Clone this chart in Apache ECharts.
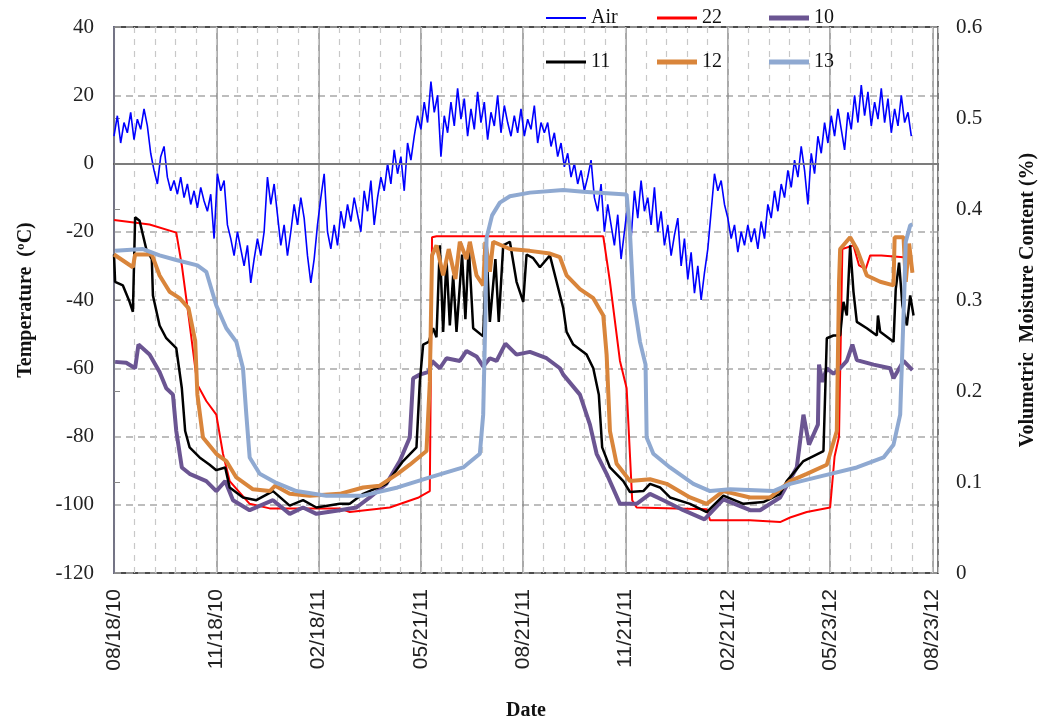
<!DOCTYPE html>
<html>
<head>
<meta charset="utf-8">
<script src="https://cdn.jsdelivr.net/npm/echarts@6/dist/echarts.min.js"></script>
<style>
  html, body { margin: 0; padding: 0; background: #fff; }
  #chart { width: 1059px; height: 726px; }
</style>
</head>
<body>
<div id="chart"></div>
<script>
// Date tick labels, one every 92 days starting 08/18/10
const dateLabels = ['08/18/10', '11/18/10', '02/18/11', '05/21/11', '08/21/11',
                    '11/21/11', '02/21/12', '05/23/12', '08/23/12'];
const tickDays = 92;

// Air temperature (°C), sampled every 3 days from 08/18/10
const airStep = 3;
const airTemps = [
  8, 14, 6, 12, 9, 15, 7, 13, 10, 16,
  11, 3, -2, -6, 2, 5, -4, -8, -5, -9,
  -4, -10, -6, -12, -8, -13, -7, -11, -14, -9,
  -22, -3, -8, -5, -18, -22, -27, -20, -25, -30,
  -24, -35, -28, -22, -27, -20, -4, -12, -6, -15,
  -24, -18, -27, -20, -12, -18, -10, -16, -27, -35,
  -28, -18, -10, -3, -20, -25, -18, -24, -14, -19,
  -12, -17, -10, -15, -20, -8, -14, -5, -18, -10,
  -4, -8, 0, -6, 4, -3, 2, -8, 6, 1,
  8, 14, 10, 18, 12, 24, 15, 20, 2, 14,
  9, 18, 11, 22, 13, 19, 8, 16, 10, 21,
  12, 18, 7, 15, 11, 20, 9, 17, 12, 8,
  14, 9, 16, 8, 13, 10, 17, 6, 12, 9,
  12, 5, 9, 2, 6, -1, 3, -4, 0, -6,
  -2, -8, -4, 1, -10, -14, -6, -20, -12, -18,
  -24, -15, -28, -20, -12, -22, -8, -16, -5, -14,
  -10, -18, -7, -20, -14, -24, -18, -27, -21, -16,
  -30, -22, -34, -26, -38, -30, -40, -32, -25, -14,
  -3, -8, -5, -12, -16, -22, -18, -26, -20, -24,
  -18, -23, -19, -25, -17, -22, -12, -16, -8, -14,
  -6, -10, -2, -7, 1, -4, 5, -2, -12, 3,
  -3, 8, 3, 12, 6, 14, 8, 16, 10, 4,
  15, 10, 20, 12, 23, 14, 21, 11, 18, 13,
  22, 12, 19, 9, 16, 11, 20, 12, 15, 8
];

// Volumetric moisture content per sensor: day offsets and values
const s22Days = [0, 32, 56, 61, 67, 75, 83, 92, 98, 104, 122, 140, 203, 212, 248, 274, 284, 286, 290,
  440, 446, 455, 461, 466, 470, 533, 536, 572, 599, 608, 623, 644, 648, 652, 655, 665, 670, 676, 680, 690, 710];
const s22Vmc = [0.388, 0.383, 0.374, 0.338, 0.283, 0.207, 0.189, 0.174, 0.131, 0.101, 0.076, 0.071, 0.071, 0.067, 0.072, 0.083, 0.090, 0.369, 0.370,
  0.370, 0.320, 0.233, 0.203, 0.080, 0.072, 0.070, 0.058, 0.058, 0.056, 0.061, 0.067, 0.072, 0.128, 0.150, 0.356, 0.360, 0.338, 0.334, 0.349, 0.349, 0.347];

const s10Days = [1, 11, 19, 22, 32, 41, 47, 53, 56, 61, 68, 83, 92, 100, 107, 122, 143, 158, 170, 182, 203, 218, 230, 245, 257, 266, 269,
  275, 283, 286, 293, 299, 311, 317, 326, 332, 338, 344, 352, 362, 374, 389, 401, 404, 419, 428, 434, 443, 455, 470, 482, 494, 512, 531,
  548, 572, 581, 599, 614, 620, 625, 633, 634, 637, 641, 647, 653, 659, 664, 668, 683, 698, 701, 710, 718];
const s10Vmc = [0.232, 0.231, 0.225, 0.251, 0.240, 0.221, 0.203, 0.196, 0.156, 0.116, 0.109, 0.101, 0.090, 0.101, 0.080, 0.069, 0.080, 0.065, 0.072, 0.065, 0.069, 0.072, 0.083, 0.098, 0.123, 0.149, 0.214,
  0.218, 0.221, 0.233, 0.225, 0.236, 0.233, 0.244, 0.238, 0.227, 0.236, 0.233, 0.252, 0.240, 0.243, 0.236, 0.225, 0.218, 0.196, 0.163, 0.131, 0.109, 0.076, 0.076, 0.087, 0.080, 0.069, 0.059,
  0.081, 0.069, 0.069, 0.083, 0.116, 0.174, 0.141, 0.163, 0.229, 0.210, 0.225, 0.219, 0.225, 0.233, 0.251, 0.234, 0.229, 0.225, 0.214, 0.233, 0.223];

const s11Days = [0, 1, 8, 14, 17, 19, 23, 29, 34, 35, 41, 47, 56, 61, 64, 68, 77, 86, 92, 100, 104, 116, 128, 143, 158, 170, 182, 203, 212,
  224, 245, 260, 272, 275, 278, 283, 287, 290, 293, 296, 299, 302, 305, 308, 313, 316, 319, 323, 332, 335, 338, 343, 346, 350, 356, 362,
  368, 371, 377, 383, 392, 398, 404, 407, 413, 425, 431, 436, 439, 446, 458, 464, 476, 482, 491, 500, 518, 533, 548, 566, 584, 599, 605,
  620, 638, 641, 647, 653, 656, 659, 662, 665, 668, 677, 686, 687, 689, 701, 703, 706, 709, 713, 716, 719];
const s11Vmc = [0.350, 0.320, 0.316, 0.298, 0.287, 0.391, 0.387, 0.356, 0.345, 0.305, 0.272, 0.258, 0.247, 0.203, 0.156, 0.138, 0.127, 0.119, 0.113, 0.116, 0.094, 0.083, 0.080, 0.090, 0.074, 0.080, 0.072, 0.076, 0.076,
  0.087, 0.098, 0.123, 0.138, 0.210, 0.251, 0.254, 0.269, 0.259, 0.360, 0.265, 0.345, 0.272, 0.327, 0.265, 0.350, 0.279, 0.360, 0.269, 0.260, 0.356, 0.276, 0.345, 0.276, 0.360, 0.364, 0.320,
  0.298, 0.350, 0.346, 0.336, 0.349, 0.320, 0.291, 0.265, 0.251, 0.240, 0.225, 0.196, 0.138, 0.116, 0.101, 0.089, 0.090, 0.098, 0.094, 0.083, 0.076, 0.067, 0.085, 0.076, 0.078, 0.087, 0.101,
  0.123, 0.134, 0.258, 0.261, 0.261, 0.298, 0.283, 0.360, 0.309, 0.276, 0.269, 0.261, 0.283, 0.265, 0.254, 0.312, 0.341, 0.294, 0.272, 0.305, 0.283];

const s12Days = [0, 17, 19, 34, 41, 50, 59, 67, 73, 75, 80, 92, 101, 110, 125, 140, 145, 158, 176, 203, 224, 239, 255, 266, 281, 284, 286,
  290, 296, 301, 307, 311, 317, 320, 326, 332, 334, 338, 341, 356, 374, 392, 401, 407, 419, 431, 440, 443, 446, 452, 464, 482, 497, 518,
  533, 548, 572, 590, 608, 623, 641, 650, 652, 653, 662, 668, 677, 689, 701, 702, 710, 712, 715, 718];
const s12Vmc = [0.350, 0.336, 0.350, 0.350, 0.327, 0.309, 0.302, 0.291, 0.255, 0.196, 0.149, 0.131, 0.123, 0.105, 0.092, 0.090, 0.096, 0.087, 0.085, 0.087, 0.094, 0.096, 0.109, 0.119, 0.134, 0.210, 0.349,
  0.360, 0.327, 0.356, 0.323, 0.364, 0.345, 0.364, 0.327, 0.316, 0.364, 0.331, 0.364, 0.356, 0.354, 0.351, 0.347, 0.327, 0.312, 0.302, 0.283, 0.240, 0.156, 0.120, 0.101, 0.103, 0.098, 0.083,
  0.076, 0.090, 0.083, 0.083, 0.101, 0.109, 0.119, 0.156, 0.320, 0.356, 0.369, 0.356, 0.327, 0.320, 0.316, 0.369, 0.369, 0.320, 0.362, 0.330];

const s13Days = [1, 26, 41, 56, 75, 83, 92, 101, 110, 116, 119, 122, 131, 146, 164, 191, 224, 255, 284, 314, 329, 332, 334, 335, 340, 347,
  356, 374, 404, 422, 461, 464, 467, 473, 478, 479, 485, 500, 521, 536, 554, 593, 608, 638, 668, 692, 701, 707, 709, 711, 712, 716, 718];
const s13Vmc = [0.354, 0.356, 0.349, 0.344, 0.338, 0.331, 0.294, 0.269, 0.254, 0.225, 0.174, 0.127, 0.109, 0.099, 0.090, 0.085, 0.085, 0.094, 0.105, 0.116, 0.131, 0.174, 0.283, 0.368, 0.393, 0.407,
  0.414, 0.418, 0.421, 0.419, 0.416, 0.374, 0.302, 0.254, 0.229, 0.149, 0.131, 0.116, 0.098, 0.090, 0.092, 0.090, 0.098, 0.107, 0.116, 0.127, 0.141, 0.174, 0.247, 0.320, 0.364, 0.382, 0.383];

const airStyle = { name: 'Air', color: '#0000ff', width: 1.6, key: 2 };
const sensors = [
  { name: '22', days: s22Days, vmc: s22Vmc, color: '#ff0000', width: 2, key: 3 },
  { name: '10', days: s10Days, vmc: s10Vmc, color: '#6b5592', width: 4, key: 5 },
  { name: '11', days: s11Days, vmc: s11Vmc, color: '#000000', width: 2.5, key: 3 },
  { name: '12', days: s12Days, vmc: s12Vmc, color: '#d9853b', width: 4, key: 5 },
  { name: '13', days: s13Days, vmc: s13Vmc, color: '#8fa9d1', width: 4, key: 5 }
];

const xMax = 741;
const serif = 'Liberation Serif, Times New Roman, serif';
const sans = 'Liberation Sans, Arial, sans-serif';

const chart = echarts.init(document.getElementById('chart'), null, { renderer: 'canvas' });

const airData = airTemps.map((t, i) => [i * airStep, t]);

const series = [{
  name: airStyle.name,
  type: 'line',
  xAxisIndex: 0,
  yAxisIndex: 0,
  data: airData,
  symbol: 'none',
  lineStyle: { color: airStyle.color, width: airStyle.width },
  itemStyle: { color: airStyle.color },
  animation: false,
  markLine: {
    silent: true,
    symbol: 'none',
    label: { show: false },
    lineStyle: { color: '#8a8a8a', type: 'solid', width: 1.5 },
    data: [{ yAxis: 0 }]
  }
}];

sensors.forEach(s => {
  series.push({
    name: s.name,
    type: 'line',
    xAxisIndex: 0,
    yAxisIndex: 1,
    data: s.days.map((d, i) => [d, s.vmc[i]]),
    symbol: 'none',
    lineStyle: { color: s.color, width: s.width },
    itemStyle: { color: s.color },
    animation: false
  });
});

// One legend entry per series, laid out as a 3 x 2 block; the key is a bar
// about as thick as the series line.
const legendCols = [546, 657, 769];
const legendRows = [8, 52];
const legendItems = [airStyle].concat(sensors).map((s, i) => ({
  left: legendCols[i % 3],
  top: legendRows[Math.floor(i / 3)],
  padding: 0,
  data: [{ name: s.name, icon: 'rect' }],
  itemWidth: 40,
  itemHeight: s.key,
  itemStyle: { color: s.color, borderWidth: 0 },
  textStyle: { fontFamily: serif, fontSize: 20, color: '#111' },
  selectedMode: false
}));

chart.setOption({
  animation: false,
  backgroundColor: '#ffffff',
  grid: {
    left: 114, right: 121, top: 27, bottom: 146,
    show: true, borderColor: '#111', borderWidth: 1.5, backgroundColor: 'transparent'
  },
  legend: legendItems,
  xAxis: [{
    type: 'value',
    min: 0,
    max: xMax,
    interval: tickDays,
    name: 'Date',
    nameLocation: 'middle',
    nameGap: 128,
    nameTextStyle: { fontFamily: serif, fontSize: 20, fontWeight: 'bold', color: '#111' },
    axisLine: { show: true, lineStyle: { color: '#555', width: 2 } },
    axisTick: { show: false },
    axisLabel: {
      rotate: 90,
      margin: 16,
      fontFamily: sans,
      fontSize: 21,
      color: '#222',
      formatter: v => {
        const k = Math.round(v / tickDays);
        return (Math.abs(v - k * tickDays) < 0.01 && dateLabels[k]) ? dateLabels[k] : '';
      }
    },
    splitLine: { show: true, lineStyle: { color: '#8c8c8c', width: 1.5, type: 'solid' } }
  }, {
    type: 'value',
    min: 0,
    max: xMax,
    interval: tickDays / 5,
    position: 'bottom',
    axisLine: { show: false },
    axisTick: { show: false },
    axisLabel: { show: false },
    splitLine: { show: true, lineStyle: { color: '#c8c8c8', width: 1.2, type: [6, 6] } },
    z: 0
  }],
  yAxis: [{
    type: 'value',
    min: -120,
    max: 40,
    interval: 20,
    position: 'left',
    name: 'Temperature  (ºC)',
    nameLocation: 'middle',
    nameRotate: 90,
    nameGap: 78,
    nameTextStyle: { fontFamily: serif, fontSize: 20, fontWeight: 'bold', color: '#111' },
    axisLine: { show: true, lineStyle: { color: '#1e1e78', width: 1.5 } },
    axisTick: { show: false },
    axisLabel: { margin: 20, fontFamily: serif, fontSize: 21, color: '#222' },
    splitLine: { show: true, lineStyle: { color: '#a8a8a8', width: 1.5, type: [7, 5] } }
  }, {
    type: 'value',
    min: 0,
    max: 0.6,
    interval: 0.1,
    position: 'right',
    name: 'Volumetric  Moisture Content (%)',
    nameLocation: 'middle',
    nameRotate: 90,
    nameGap: 80,
    nameTextStyle: { fontFamily: serif, fontSize: 20, fontWeight: 'bold', color: '#111' },
    axisLine: { show: true, lineStyle: { color: '#888', width: 1.5 } },
    axisTick: { show: true, inside: false, length: 6, lineStyle: { color: '#888' } },
    axisLabel: { margin: 18, fontFamily: serif, fontSize: 21, color: '#222',
                 formatter: v => String(Math.round(v * 10) / 10) },
    splitLine: { show: false }
  }],
  series: series
});
</script>
</body>
</html>
